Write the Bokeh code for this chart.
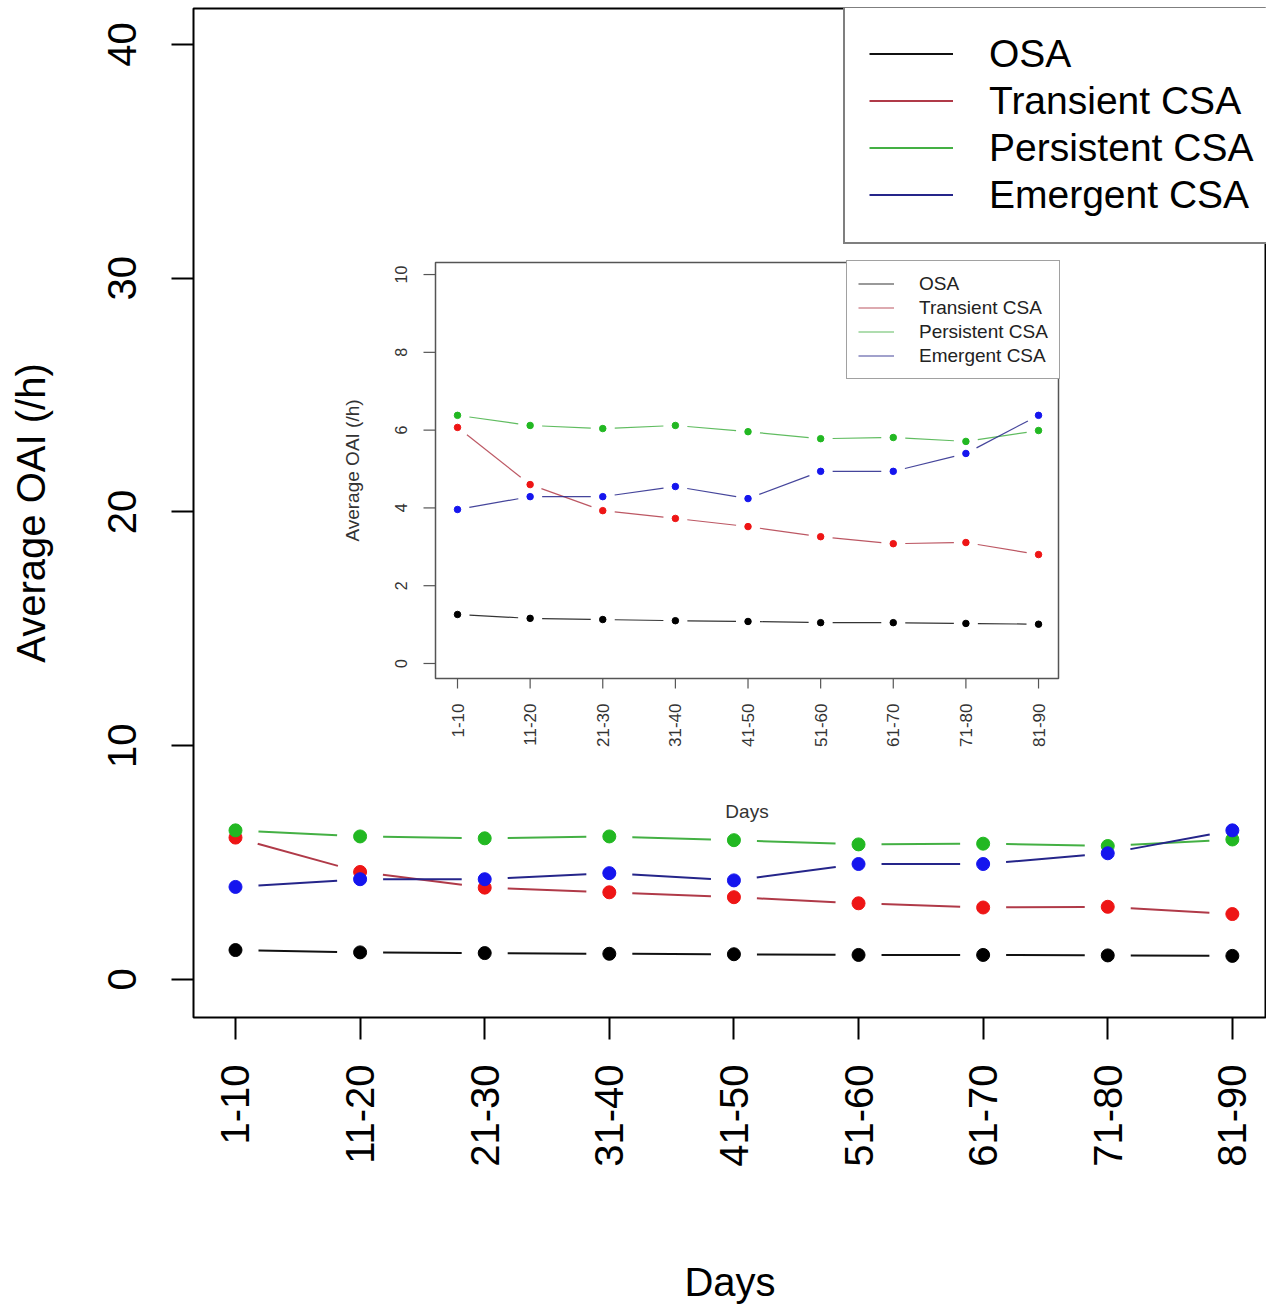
import math
from bokeh.plotting import figure
from bokeh.models import Legend, LegendItem, FixedTicker, Range1d, ColumnDataSource
from bokeh.core.properties import value
from bokeh.embed import file_html
from bokeh.resources import INLINE

# ---------------- data ----------------
days = ["1-10", "11-20", "21-30", "31-40", "41-50", "51-60", "61-70", "71-80", "81-90"]
series_names = ["OSA", "Transient CSA", "Persistent CSA", "Emergent CSA"]
osa = [1.26, 1.16, 1.13, 1.10, 1.08, 1.05, 1.05, 1.03, 1.01]
transient = [6.07, 4.60, 3.93, 3.73, 3.52, 3.26, 3.08, 3.11, 2.80]
persistent = [6.38, 6.12, 6.04, 6.12, 5.96, 5.78, 5.81, 5.71, 5.99]
emergent = [3.96, 4.29, 4.29, 4.55, 4.24, 4.94, 4.94, 5.40, 6.38]
main_yticks = [0, 10, 20, 30, 40]
inset_yticks = [0, 2, 4, 6, 8, 10]

values = [osa, transient, persistent, emergent]
line_colors = ["#111111", "#B03A48", "#44B044", "#25258A"]
point_colors = ["#000000", "#EE1515", "#22B822", "#1515EE"]

xs = list(range(1, len(days) + 1))
labels = {x: d for x, d in zip(xs, days)}
FONT = "Liberation Sans"


def gapped(x, y, gap_px, sx, sy):
    x0s, y0s, x1s, y1s = [], [], [], []
    for i in range(len(x) - 1):
        dx = (x[i + 1] - x[i]) * sx
        dy = (y[i + 1] - y[i]) * sy
        L = math.hypot(dx, dy)
        f = gap_px / L if L > 0 else 0
        x0s.append(x[i] + f * (x[i + 1] - x[i]))
        y0s.append(y[i] + f * (y[i + 1] - y[i]))
        x1s.append(x[i + 1] - f * (x[i + 1] - x[i]))
        y1s.append(y[i + 1] - f * (y[i + 1] - y[i]))
    return dict(x0=x0s, y0=y0s, x1=x1s, y1=y1s)


# ---------------- main figure ----------------
W, H = 1266, 1307
ml, mr, mt, mb = 193, 0, 8, 290
x0m, x1m = 0.663, 9.274
y0m, y1m = -1.626, 41.54
fw, fh = W - ml - mr, H - mt - mb
sxm, sym = fw / (x1m - x0m), fh / (y1m - y0m)

# inset frame placement (canvas pixels) and its data ranges
i_left, i_top, i_w, i_h = 435, 262, 623, 416
x0i, x1i = 0.697, 9.275
y0i, y1i = -0.386, 10.31
sxi, syi = i_w / (x1i - x0i), i_h / (y1i - y0i)
ix_start = x0i - (i_left - ml) / sxi
ix_end = ix_start + fw / sxi
iy_start = y0i - ((mt + fh) - (i_top + i_h)) / syi
iy_end = iy_start + fh / syi

p = figure(width=W, height=H, output_backend="svg", toolbar_location=None,
           x_range=Range1d(x0m, x1m), y_range=Range1d(y0m, y1m),
           min_border_left=ml, min_border_right=mr, min_border_top=mt, min_border_bottom=mb,
           x_axis_label="Days", y_axis_label="Average OAI (/h)")
p.extra_x_ranges = {"ix": Range1d(ix_start, ix_end)}
p.extra_y_ranges = {"iy": Range1d(iy_start, iy_end)}
p.grid.visible = False
p.outline_line_color = "black"
p.outline_line_width = 2
p.background_fill_color = "white"
p.border_fill_color = "white"
p.xaxis.ticker = FixedTicker(ticks=xs)
p.xaxis.major_label_overrides = labels
p.yaxis.ticker = FixedTicker(ticks=main_yticks)
for ax in (p.xaxis[0], p.yaxis[0]):
    ax.axis_line_color = None
    ax.major_tick_in = 0
    ax.major_tick_out = 22
    ax.major_tick_line_color = "black"
    ax.major_tick_line_width = 2
    ax.minor_tick_line_color = None
    ax.major_label_text_font = FONT
    ax.major_label_text_font_size = "40px"
    ax.major_label_text_color = "black"
    ax.axis_label_text_font = FONT
    ax.axis_label_text_font_size = "40px"
    ax.axis_label_text_font_style = "normal"
    ax.axis_label_text_color = "black"
p.xaxis[0].major_label_orientation = math.pi / 2
p.yaxis[0].major_label_orientation = "vertical"
p.xaxis[0].major_label_standoff = 25
p.yaxis[0].major_label_standoff = 35
p.xaxis[0].axis_label_standoff = 90
p.yaxis[0].axis_label_standoff = 53

items = []
for name, vals, lc, pc in zip(series_names, values, line_colors, point_colors):
    seg = p.segment("x0", "y0", "x1", "y1", source=ColumnDataSource(gapped(xs, vals, 23, sxm, sym)),
                    line_color=lc, line_width=2)
    p.scatter(xs, vals, size=13, marker="circle", fill_color=pc, line_color=pc)
    items.append(LegendItem(label=name, renderers=[seg]))

lpad, llh = 24, 47
leg_h = 2 * lpad + len(series_names) * llh
leg_left, leg_top = 843, 8
leg = Legend(items=items, location=(leg_left - ml, (mt + fh) - (leg_top + leg_h)), margin=0,
             padding=lpad, glyph_width=84, glyph_height=llh, label_height=llh, spacing=0,
             label_standoff=36, label_text_font=FONT, label_text_font_size="39px",
             label_text_color="black",
             border_line_color="black", border_line_width=2,
             background_fill_color="white", background_fill_alpha=1)
p.add_layout(leg)

# ---------------- inset (drawn on the extra ranges) ----------------
R = dict(x_range_name="ix", y_range_name="iy")
p.quad(left=[x0i], right=[x1i], bottom=[y0i], top=[y1i], fill_color="white",
       line_color="#555555", line_width=1.5, **R)

# inset ticks
tick_y = 12 / sxi
p.segment(x0=[x0i - tick_y] * len(inset_yticks), y0=inset_yticks, x1=[x0i] * len(inset_yticks),
          y1=inset_yticks, line_color="#555555", line_width=1.2, **R)
tick_x = 10 / syi
p.segment(x0=xs, y0=[y0i] * len(xs), x1=xs, y1=[y0i - tick_x] * len(xs),
          line_color="#555555", line_width=1.2, **R)

# inset tick labels
p.text(x=[x0i] * len(inset_yticks), y=inset_yticks, text=[str(t) for t in inset_yticks],
       x_offset=-35, angle=math.pi / 2, text_align="center", text_baseline="middle",
       text_font=value(FONT), text_font_size="16px", text_color="#333333", **R)
p.text(x=xs, y=[y0i] * len(xs), text=days, y_offset=25, angle=math.pi / 2,
       text_align="right", text_baseline="middle",
       text_font=value(FONT), text_font_size="17px", text_color="#333333", **R)

# inset axis titles
p.text(x=[x0i], y=[(y0i + y1i) / 2], text=["Average OAI (/h)"], x_offset=-83, angle=math.pi / 2,
       text_align="center", text_baseline="middle",
       text_font=value(FONT), text_font_size="19px", text_color="#333333", **R)
p.text(x=[(x0i + x1i) / 2], y=[y0i], text=["Days"], y_offset=133,
       text_align="center", text_baseline="middle",
       text_font=value(FONT), text_font_size="19px", text_color="#333333", **R)

iitems = []
for name, vals, lc, pc in zip(series_names, values, line_colors, point_colors):
    seg = p.segment("x0", "y0", "x1", "y1", source=ColumnDataSource(gapped(xs, vals, 12, sxi, syi)),
                    line_color=lc, line_width=1.2, line_alpha=0.85, **R)
    p.scatter(xs, vals, size=6.5, marker="circle", fill_color=pc, line_color=pc, **R)
    iitems.append(LegendItem(label=name, renderers=[seg]))

ipad, ilh, isp = 11, 23, 1
ileg_h = 2 * ipad + len(series_names) * ilh + (len(series_names) - 1) * isp
ileg_w = 212
ileg = Legend(items=iitems,
              location=(i_left + i_w - ileg_w - ml, (mt + fh) - (i_top + ileg_h)),
              margin=0, padding=ipad,
              glyph_width=36, glyph_height=ilh, label_height=ilh, spacing=isp, label_standoff=25,
              label_text_font=FONT, label_text_font_size="19px", label_text_color="#222222",
              border_line_color="#444444", border_line_width=1.2,
              background_fill_color="white", background_fill_alpha=1)
p.add_layout(ileg)

open("out.html", "w").write(file_html(p, INLINE))
